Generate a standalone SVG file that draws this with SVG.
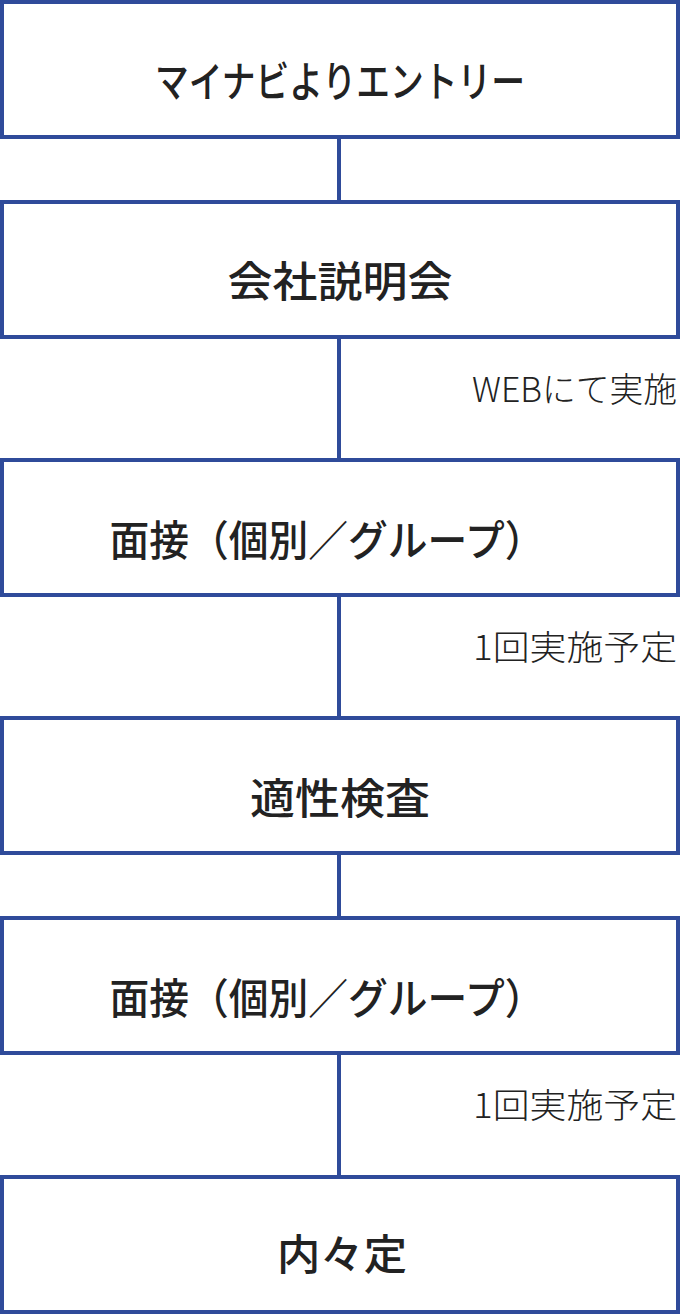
<svg xmlns="http://www.w3.org/2000/svg" width="680" height="1314" viewBox="0 0 680 1314">
<style>
.box{fill:#fff;stroke:#2f4b9a;stroke-width:4}
.conn{stroke:#2f4b9a;stroke-width:4;fill:none}
.t{font-family:"Noto Sans CJK JP","Noto Sans",sans-serif;font-weight:500;font-size:42px;fill:#222;text-anchor:middle}
.s{font-family:"Noto Sans CJK JP","Noto Sans",sans-serif;font-weight:300;font-size:34px;fill:#222;text-anchor:end}
</style>
<rect width="680" height="1314" fill="#fff"/>
<g id="connectors">
<line class="conn" x1="339" y1="138" x2="339" y2="202"/>
<line class="conn" x1="339" y1="338" x2="339" y2="460"/>
<line class="conn" x1="339" y1="596" x2="339" y2="718"/>
<line class="conn" x1="339" y1="854" x2="339" y2="918"/>
<line class="conn" x1="339" y1="1054" x2="339" y2="1177"/>
</g>
<g id="n1"><rect class="box" x="2" y="2" width="676" height="135"/><text class="t" x="340" y="97" textLength="370" lengthAdjust="spacingAndGlyphs">マイナビよりエントリー</text></g>
<g id="n2"><rect class="box" x="2" y="202" width="676" height="135"/><text class="t" x="340" y="297" textLength="225" lengthAdjust="spacingAndGlyphs">会社説明会</text></g>
<g id="n3"><rect class="box" x="2" y="460" width="676" height="135"/><text class="t" x="327" y="556" textLength="435" lengthAdjust="spacingAndGlyphs">面接（個別／グループ）</text></g>
<g id="n4"><rect class="box" x="2" y="718" width="676" height="135"/><text class="t" x="340" y="814" textLength="180" lengthAdjust="spacingAndGlyphs">適性検査</text></g>
<g id="n5"><rect class="box" x="2" y="918" width="676" height="135"/><text class="t" x="327" y="1014" textLength="435" lengthAdjust="spacingAndGlyphs">面接（個別／グループ）</text></g>
<g id="n6"><rect class="box" x="2" y="1177" width="676" height="135"/><text class="t" x="342" y="1270" textLength="130" lengthAdjust="spacingAndGlyphs">内々定</text></g>
<g id="labels">
<text class="s" x="677" y="402" textLength="205" lengthAdjust="spacingAndGlyphs">WEBにて実施</text>
<text class="s" x="677" y="660" textLength="204" lengthAdjust="spacingAndGlyphs">1回実施予定</text>
<text class="s" x="677" y="1118" textLength="204" lengthAdjust="spacingAndGlyphs">1回実施予定</text>
</g>
</svg>
